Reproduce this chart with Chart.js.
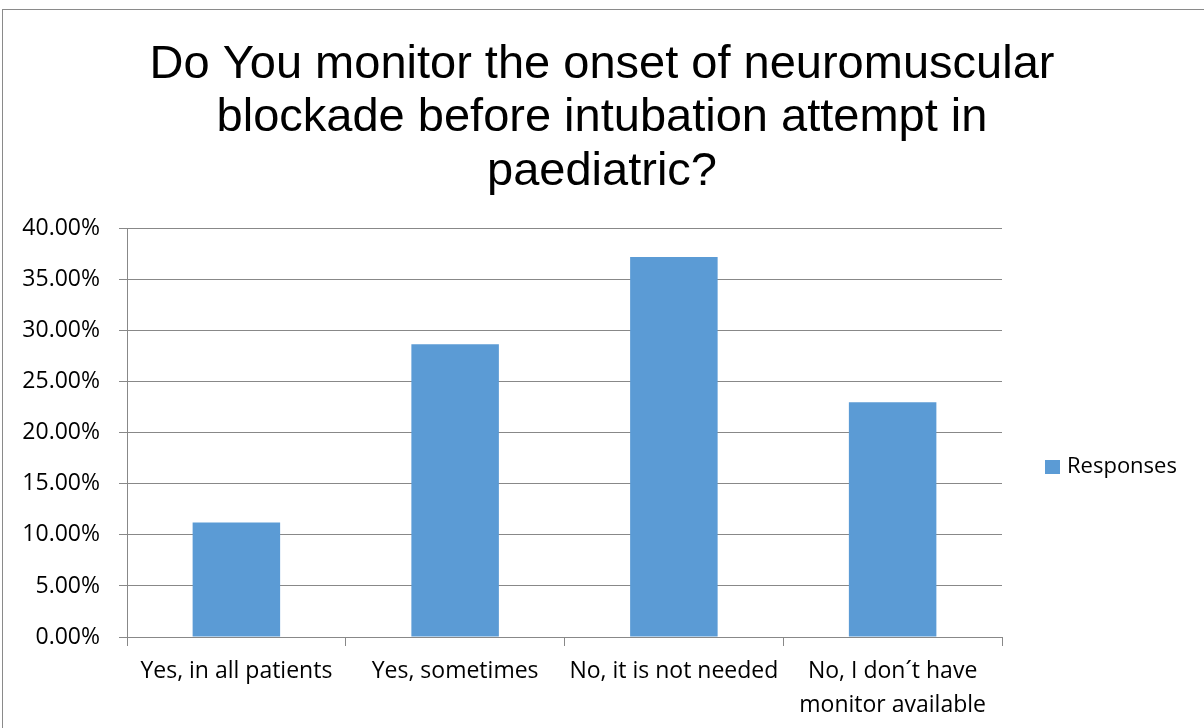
<!DOCTYPE html>
<html>
<head>
<meta charset="utf-8">
<script src="https://cdn.jsdelivr.net/npm/chart.js@4"></script>
<style>
  html, body { margin: 0; padding: 0; background: #fff; }
  #wrap { width: 1204px; height: 728px; position: relative; }
</style>
</head>
<body>
<div id="wrap"><canvas id="c" width="1204" height="728"></canvas></div>
<script>
const titleLines = ["Do You monitor the onset of neuromuscular", "blockade before intubation attempt in", "paediatric?"];
const categories = ["Yes, in all patients", "Yes, sometimes", "No, it is not needed", ["No, I don\u00B4t have", "monitor available"]];
const seriesName = "Responses";
const responses = [0.1122, 0.2869, 0.3722, 0.2300];
const yTicks = [0, 0.05, 0.10, 0.15, 0.20, 0.25, 0.30, 0.35, 0.40];

const BAR_COLOR = "#5B9BD5";
const GRID_COLOR = "#888888";
const TEXT_FONT = "'Open Sans', sans-serif";

const framePlugin = {
  id: "frame",
  beforeDraw(chart) {
    const ctx = chart.ctx;
    ctx.save();
    ctx.fillStyle = "#ffffff";
    ctx.fillRect(0, 0, chart.width, chart.height);
    ctx.strokeStyle = "#8a8a8a";
    ctx.lineWidth = 1;
    ctx.strokeRect(2.5, 9.5, 1400, 1000);
    ctx.restore();
  }
};

const legendPlugin = {
  id: "customLegend",
  afterDraw(chart) {
    const ctx = chart.ctx;
    const ds = chart.data.datasets[0];
    const x = chart.chartArea.right + 43;
    const yc = 467;
    ctx.save();
    ctx.fillStyle = ds.backgroundColor;
    ctx.fillRect(x, yc - 7, 15, 14);
    ctx.fillStyle = "#000";
    ctx.font = "22px " + TEXT_FONT;
    ctx.textBaseline = "middle";
    ctx.textAlign = "left";
    ctx.fillText(ds.label, x + 22, yc);
    ctx.restore();
  }
};

new Chart(document.getElementById("c"), {
  type: "bar",
  data: {
    labels: categories,
    datasets: [{
      label: seriesName,
      data: responses,
      backgroundColor: BAR_COLOR,
      borderWidth: 0,
      barPercentage: 0.4,
      categoryPercentage: 1.0,
      yAxisID: "y"
    }]
  },
  options: {
    responsive: false,
    animation: false,
    devicePixelRatio: 1,
    layout: { padding: 0 },
    plugins: {
      legend: { display: false },
      tooltip: { enabled: false },
      title: {
        display: true,
        text: titleLines,
        color: "#000",
        font: { family: "'Liberation Sans', Arial, sans-serif", size: 47, weight: "normal", lineHeight: 1.14 },
        padding: { top: 38, bottom: 30 }
      }
    },
    scales: {
      x: {
        grid: { display: true, drawOnChartArea: false, drawTicks: true, tickLength: 9, color: GRID_COLOR, offset: true },
        border: { display: true, color: GRID_COLOR },
        ticks: { color: "#000", font: { family: TEXT_FONT, size: 23, lineHeight: 1.45 }, padding: 9, maxRotation: 0, autoSkip: false },
        afterFit(s) { s.height = 91; }
      },
      y: {
        position: "left",
        min: 0,
        max: 0.4,
        afterBuildTicks(s) { s.ticks = yTicks.map(v => ({ value: v })); },
        grid: { color: GRID_COLOR, tickLength: 8, drawTicks: true },
        border: { display: true, color: GRID_COLOR },
        ticks: {
          color: "#000",
          font: { family: TEXT_FONT, size: 23 },
          padding: 19,
          callback: (v) => (v * 100).toFixed(2) + "%"
        },
        afterFit(s) { s.width = 127; }
      },
      yR: {
        position: "right",
        display: true,
        grid: { display: false },
        border: { display: false },
        ticks: { display: false },
        afterFit(s) { s.width = 202; }
      }
    }
  },
  plugins: [framePlugin, legendPlugin]
});
</script>
</body>
</html>
